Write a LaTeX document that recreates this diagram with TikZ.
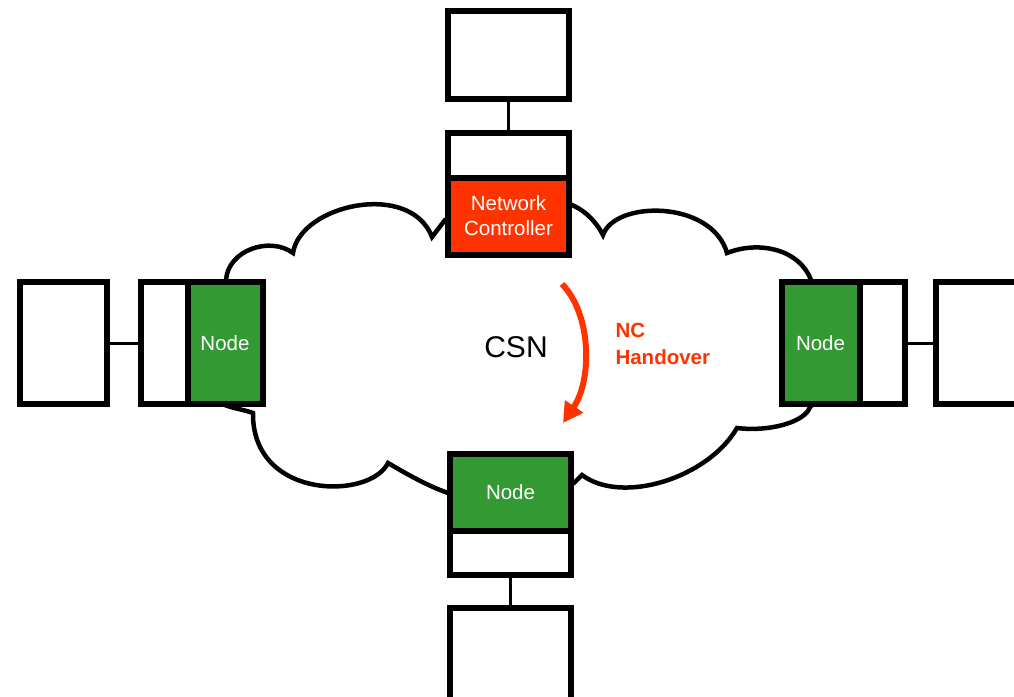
\documentclass[tikz,border=0pt]{standalone}
\usepackage{fontspec}
\setmainfont{Liberation Sans}
\usetikzlibrary{arrows.meta}

\definecolor{ncred}{HTML}{FF3300}
\definecolor{nodegreen}{HTML}{339933}

\tikzset{
  box/.style = {rectangle,
      draw = black,
      fill = white,
      line width = 6pt,
      inner sep = 0pt},
  greenbox/.style = {box,
      fill = nodegreen,
      text = white,
      font = \fontsize{20.5}{25}\selectfont},
  redbox/.style = {box,
      fill = ncred,
      text = white,
      align = center,
      font = \fontsize{20.5}{25}\selectfont},
  link/.style = {draw = black, line width = 3pt},
}

\begin{document}
\begin{tikzpicture}[x=1pt, y=-1pt]
\useasboundingbox (0,0) rectangle (1014,696);

% cloud (parts behind the boxes are hidden)
\draw[line width = 4.5pt, fill = white, line join = miter]
  (230,330) -- (226,280)
  .. controls (228,250) and (270,236) .. (293,253)
  .. controls (300,205) and (410,180) .. (432,237)
  -- (445,220) -- (572,205)
  .. controls (588,212) and (598,225) .. (603,235)
  .. controls (615,200) and (712,200) .. (727,253)
  .. controls (760,240) and (800,250) .. (811,280)
  -- (830,300) -- (830,390) -- (810,407)
  .. controls (805,422) and (770,432) .. (737,428)
  .. controls (708,478) and (622,505) .. (582,475)
  -- (574,483) -- (460,500) -- (448,493)
  .. controls (425,485) and (400,470) .. (388,463)
  .. controls (370,500) and (252,500) .. (253,413)
  .. controls (245,410) and (232,408) .. (225,405)
  -- cycle;

% top station
  \node[box,
      minimum width = 121pt,
      minimum height = 88pt] (topstation) at (508.5,55) {};
  \node[box,
      minimum width = 121pt,
      minimum height = 45pt] (ncport) at (508.5,155) {};
  \node[redbox,
      minimum width = 121pt,
      minimum height = 77pt] (nc) at (508.5,216) {Network\\Controller};
\draw[link] (topstation.south) -- (ncport.north);

% left station
  \node[box,
      minimum width = 87pt,
      minimum height = 122pt] (leftstation) at (63.5,343) {};
  \node[box,
      minimum width = 47pt,
      minimum height = 122pt] (leftport) at (164,343) {};
  \node[greenbox,
      minimum width = 75pt,
      minimum height = 122pt] (leftnode) at (225,343) {Node};
\draw[link] (leftstation.east) -- (leftport.west);

% right station
  \node[box,
      minimum width = 110pt,
      minimum height = 122pt] (rightstation) at (991,343) {};
  \node[box,
      minimum width = 45pt,
      minimum height = 122pt] (rightport) at (882,343) {};
  \node[greenbox,
      minimum width = 78pt,
      minimum height = 122pt] (rightnode) at (820.5,343) {Node};
\draw[link] (rightport.east) -- (rightstation.west);

% bottom station
  \node[box,
      minimum width = 121pt,
      minimum height = 44pt] (bottomport) at (510.5,552.5) {};
  \node[greenbox,
      minimum width = 121pt,
      minimum height = 77pt] (bottomnode) at (510.5,492) {Node};
  \node[box,
      minimum width = 121pt,
      minimum height = 113pt] (bottomstation) at (510.5,664) {};
\draw[link] (bottomport.south) -- (bottomstation.north);

% network name and handover
\node (csn) at (516,347) {\fontsize{30}{36}\selectfont CSN};
\node[anchor = west,
      align = left,
      text = ncred,
      font = \bfseries\fontsize{20.5}{27}\selectfont] (handover) at (612,344) {NC\\Handover};
\coordinate (hostart) at (562,284);
\coordinate (hoend) at (563,423);
\draw[ncred, line width = 6pt, -{Triangle[length=20pt, width=21pt]}]
  (hostart) .. controls (592,315) and (592,380) .. (hoend);
\end{tikzpicture}
\end{document}
